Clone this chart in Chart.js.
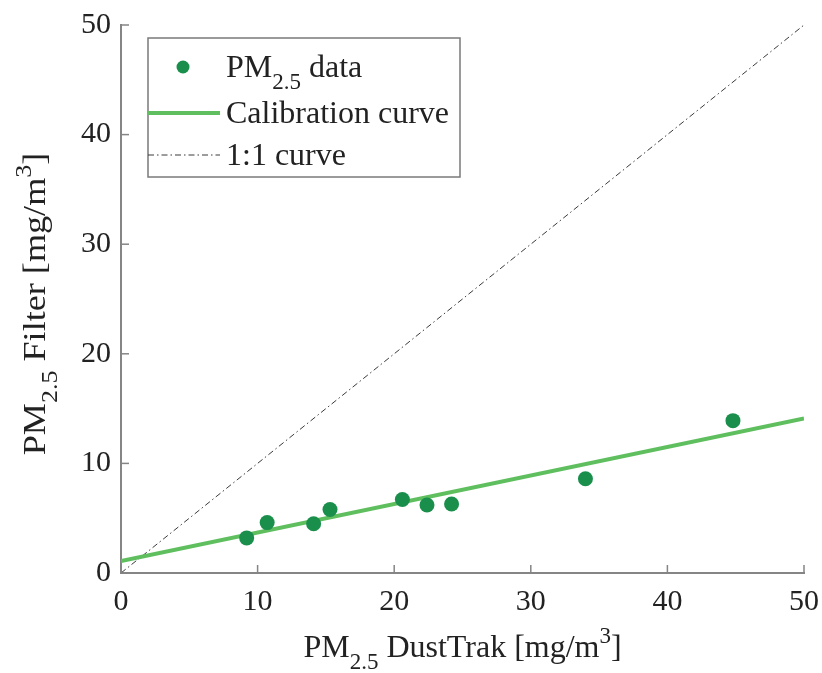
<!DOCTYPE html>
<html>
<head>
<meta charset="utf-8">
<script src="https://cdn.jsdelivr.net/npm/chart.js@4"></script>
<style>
  html, body { margin: 0; padding: 0; background: #fff; }
  #wrap { width: 822px; height: 673px; }
</style>
</head>
<body>
<div id="wrap"><canvas id="myChart"></canvas></div>
<script>
// measured points (DustTrak vs filter)
const dustTrak = [9.2, 10.7, 14.1, 15.3, 20.6, 22.4, 24.2, 34.0, 44.8];
const filterPM = [3.2, 4.6, 4.5, 5.8, 6.7, 6.2, 6.3, 8.6, 13.9];

// calibration line + 1:1 line end points
const calibX = [0, 50];
const calibY = [1.1, 14.1];
const oneX = [0, 50];
const oneY = [0, 50];

const tickValues = [0, 10, 20, 30, 40, 50];

const serif = "'Liberation Serif', 'Times New Roman', serif";
const axisGray = "#858585";
const dotGreen = "#1a8f4c";
const lineGreen = "#5fbf5f";

const toPoints = (xs, ys) => xs.map((x, i) => ({ x: x, y: ys[i] }));

// text pieces, sub / sup for the PM2.5 and m3 bits
const xTitle = [["PM"], ["2.5", "sub"], [" DustTrak [mg/m"], ["3", "sup"], ["]"]];
const yTitle = [["PM"], ["2.5", "sub"], [" Filter [mg/m"], ["3", "sup"], ["]"]];
const legendText = [
  [["PM"], ["2.5", "sub"], [" data"]],
  [["Calibration curve"]],
  [["1:1 curve"]],
];

const richWidth = (ctx, parts, size) => {
  const small = Math.round(size * 0.72);
  let w = 0;
  parts.forEach(p => {
    ctx.font = (p[1] ? small : size) + "px " + serif;
    w += ctx.measureText(p[0]).width;
  });
  return w;
};

// draws from left x
const drawRich = (ctx, parts, x, y, size) => {
  const small = Math.round(size * 0.72);
  let cx = x;
  parts.forEach(p => {
    ctx.font = (p[1] ? small : size) + "px " + serif;
    let dy = 0;
    if (p[1] == "sub") dy = size * 0.38;
    if (p[1] == "sup") dy = -size * 0.45;
    ctx.fillText(p[0], cx, y + dy);
    cx += ctx.measureText(p[0]).width;
  });
};

const extrasPlugin = {
  id: "extras",
  afterDraw(chart) {
    const ctx = chart.ctx;
    const xs = chart.scales.x;
    const ys = chart.scales.y;
    const area = chart.chartArea;

    ctx.save();
    // inward ticks
    ctx.strokeStyle = axisGray;
    ctx.lineWidth = 1.5;
    tickValues.forEach(v => {
      const px = xs.getPixelForValue(v);
      ctx.beginPath();
      ctx.moveTo(px, area.bottom);
      ctx.lineTo(px, area.bottom - 8);
      ctx.stroke();
      const py = ys.getPixelForValue(v);
      ctx.beginPath();
      ctx.moveTo(area.left, py);
      ctx.lineTo(area.left + 8, py);
      ctx.stroke();
    });

    // axis titles
    ctx.fillStyle = "#222";
    ctx.textBaseline = "alphabetic";
    ctx.textAlign = "left";
    const fs = 32;
    let w = richWidth(ctx, xTitle, fs);
    drawRich(ctx, xTitle, (area.left + area.right) / 2 - w / 2, 657, fs);

    // y title looks stretched along its length in the original
    ctx.save();
    ctx.translate(45, 304);
    ctx.rotate(-Math.PI / 2);
    ctx.scale(1.13, 1);
    w = richWidth(ctx, yTitle, fs);
    drawRich(ctx, yTitle, -w / 2, 0, fs);
    ctx.restore();

    // legend box
    const lx = 148, ly = 38, lw = 312, lh = 139;
    ctx.fillStyle = "#fff";
    ctx.fillRect(lx, ly, lw, lh);
    ctx.strokeStyle = "#7a7a7a";
    ctx.lineWidth = 1.5;
    ctx.strokeRect(lx, ly, lw, lh);

    const rows = [67, 113, 155];
    chart.data.datasets.forEach((ds, i) => {
      const ry = rows[i];
      ctx.save();
      if (ds.showLine) {
        ctx.strokeStyle = ds.borderColor;
        ctx.lineWidth = ds.borderWidth;
        ctx.setLineDash(ds.borderDash || []);
        ctx.beginPath();
        ctx.moveTo(lx, ry);
        ctx.lineTo(lx + 72, ry);
        ctx.stroke();
      } else {
        ctx.fillStyle = ds.backgroundColor;
        ctx.beginPath();
        ctx.arc(lx + 35, ry, 6.5, 0, Math.PI * 2);
        ctx.fill();
      }
      ctx.restore();
      ctx.fillStyle = "#222";
      drawRich(ctx, legendText[i], lx + 78, ry + 10, fs);
    });
    ctx.restore();
  },
};

const ctx = document.getElementById("myChart").getContext("2d");
const myChart = new Chart(ctx, {
  type: "scatter",
  data: {
    datasets: [
      {
        label: "PM2.5 data",
        data: toPoints(dustTrak, filterPM),
        backgroundColor: dotGreen,
        borderColor: dotGreen,
        pointRadius: 7.5,
        pointBorderWidth: 0,
        order: 1,
      },
      {
        label: "Calibration curve",
        data: toPoints(calibX, calibY),
        showLine: true,
        borderColor: lineGreen,
        borderWidth: 4,
        pointRadius: 0,
        order: 2,
      },
      {
        label: "1:1 curve",
        data: toPoints(oneX, oneY),
        showLine: true,
        borderColor: "#3a3a3a",
        borderWidth: 1,
        borderDash: [6, 3, 1.5, 3],
        pointRadius: 0,
        order: 3,
      },
    ],
  },
  options: {
    responsive: true,
    maintainAspectRatio: false,
    animation: false,
    layout: { padding: { left: 0, top: 25, right: 18, bottom: 0 } },
    plugins: {
      legend: { display: false },
      tooltip: { enabled: false },
    },
    scales: {
      x: {
        type: "linear",
        min: 0,
        max: 50,
        afterFit: (scale) => {
          scale.height = 100;
          scale.paddingLeft = 0;
          scale.paddingRight = 0;
        },
        afterBuildTicks: (scale) => { scale.ticks = tickValues.map(v => ({ value: v })); },
        grid: { display: false, drawTicks: false },
        border: { color: axisGray, width: 2 },
        ticks: { padding: 11, color: "#222", font: { family: serif, size: 30 } },
      },
      y: {
        type: "linear",
        min: 0,
        max: 50,
        afterFit: (scale) => {
          scale.width = 121;
          scale.paddingTop = 0;
          scale.paddingBottom = 0;
        },
        afterBuildTicks: (scale) => { scale.ticks = tickValues.map(v => ({ value: v })); },
        grid: { display: false, drawTicks: false },
        border: { color: axisGray, width: 2 },
        ticks: { padding: 10, color: "#222", font: { family: serif, size: 30 } },
      },
    },
  },
  plugins: [extrasPlugin],
});
</script>
</body>
</html>
